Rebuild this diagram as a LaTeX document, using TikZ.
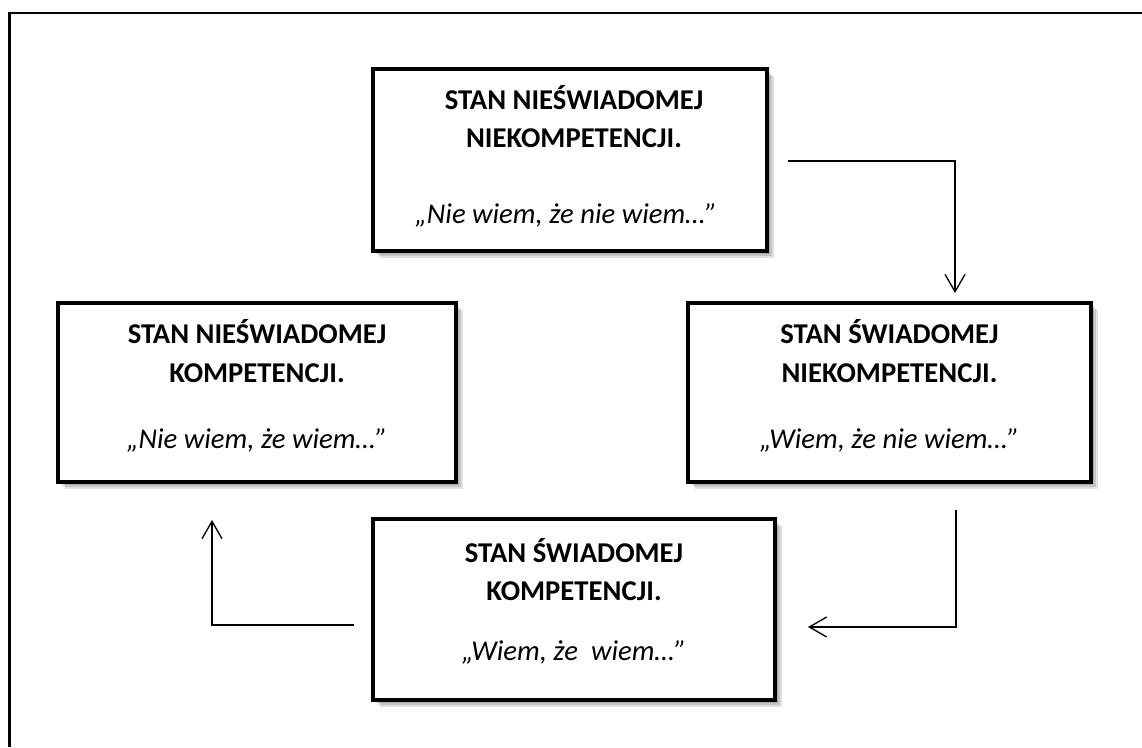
\documentclass[tikz,border=0pt]{standalone}
\usepackage{fontspec}
\setmainfont{Carlito}
\usetikzlibrary{arrows.meta,calc,shadows}
\begin{document}
\begin{tikzpicture}[x=0.75pt,y=-0.75pt,
  stanbox/.style={draw=black, line width=3pt, fill=white, inner sep=0pt, outer sep=0pt,
    general shadow={fill=black, opacity=0.12, shadow xshift=2pt, shadow yshift=-2pt},
    general shadow={fill=black, opacity=0.12, shadow xshift=3.5pt, shadow yshift=-3.5pt},
    general shadow={fill=black, opacity=0.12, shadow xshift=5pt, shadow yshift=-5pt}},
  ttl/.style={anchor=base, inner sep=0pt, font=\fontsize{21.5pt}{26pt}\selectfont\bfseries},
  qt/.style={anchor=base, inner sep=0pt, font=\fontsize{21.5pt}{26pt}\selectfont\itshape},
  conn/.style={line width=1pt, -{Straight Barb[length=13pt,width=15pt,line width=1pt]}},
  frame/.style={line width=1.8pt, line cap=butt}]
\useasboundingbox (0,0) rectangle (1142,747);
% outer frame (clipped at right and bottom)
\draw[frame] (9.5,747) -- (9.5,13) -- (1142,13);
% boxes
\node[stanbox, minimum width=295.5pt, minimum height=136.5pt] (top) at (570,160) {};
\node[stanbox, minimum width=298.5pt, minimum height=134.25pt] (left) at (257,392.5) {};
\node[stanbox, minimum width=302.25pt, minimum height=134.25pt] (right) at (889.5,392.5) {};
\node[stanbox, minimum width=301.5pt, minimum height=135.75pt] (bottom) at (574,609.5) {};
% texts
\node[ttl] (t1) at (574,109) {STAN NIEŚWIADOMEJ};
\node[ttl] (t2) at (574,147) {NIEKOMPETENCJI.};
\node[qt]  (t3) at (566,223) {„Nie wiem, że nie wiem…”};
\node[ttl] (l1) at (257,343) {STAN NIEŚWIADOMEJ};
\node[ttl] (l2) at (257,382) {KOMPETENCJI.};
\node[qt]  (l3) at (257,448) {„Nie wiem, że wiem…”};
\node[ttl] (r1) at (889.5,343) {STAN ŚWIADOMEJ};
\node[ttl] (r2) at (889.5,382) {NIEKOMPETENCJI.};
\node[qt]  (r3) at (889.5,448) {„Wiem, że nie wiem…”};
\node[ttl] (b1) at (574,562) {STAN ŚWIADOMEJ};
\node[ttl] (b2) at (574,600) {KOMPETENCJI.};
\node[qt]  (b3) at (574,660) {„Wiem, że\ \ wiem…”};
% connectors
\draw[conn] ($(top.east)+(21,1)$) -| ($(right.north)+(65.5,-10)$);
\draw[conn] ($(right.south)+(66.5,28)$) |- ($(bottom.east)+(33,17.5)$);
\draw[conn] ($(bottom.west)+(-19,15.5)$) -| ($(left.south)+(-45,38)$);
\end{tikzpicture}
\end{document}
